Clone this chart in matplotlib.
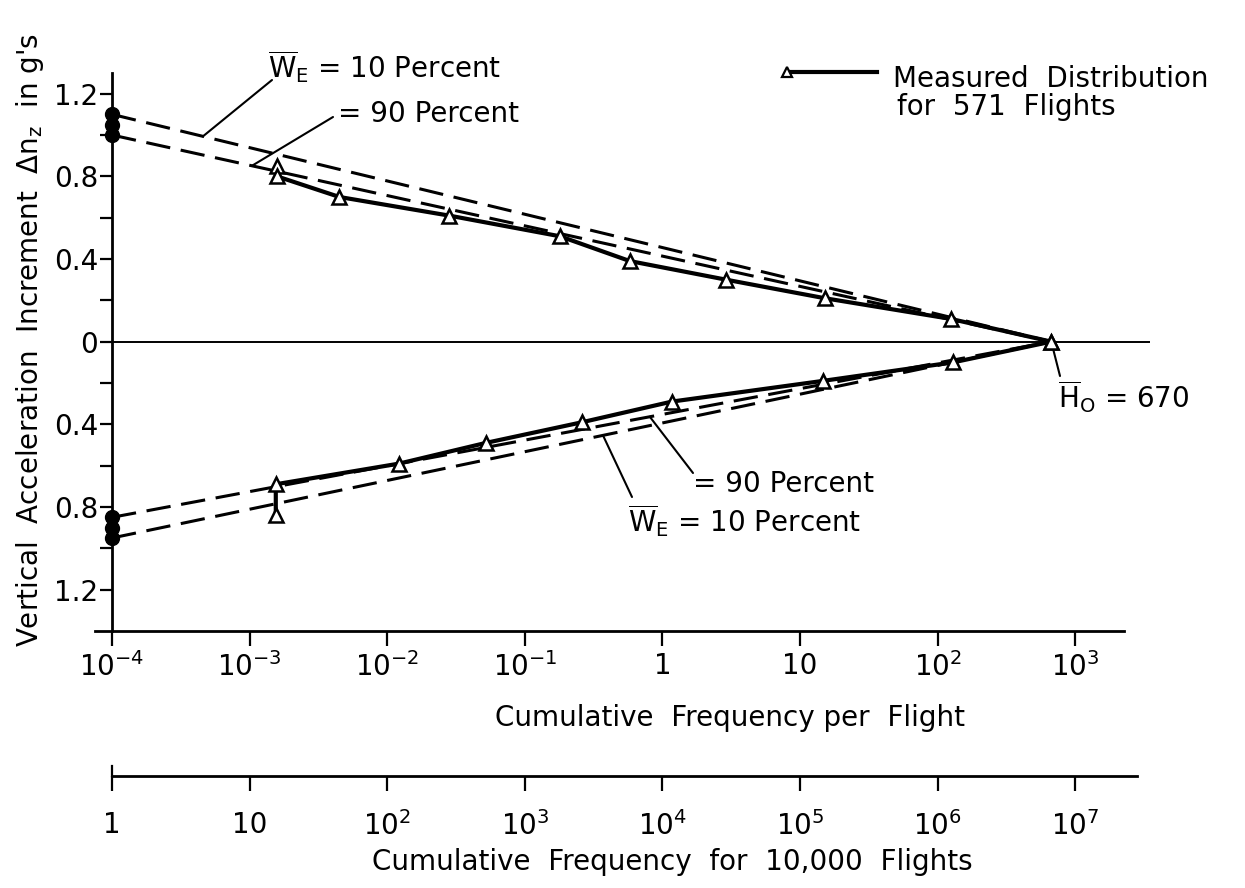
import numpy as np
import matplotlib
matplotlib.use('Agg')
import matplotlib.pyplot as plt
from matplotlib.lines import Line2D
from matplotlib.ticker import NullLocator

# measured distribution for 571 flights (frequency per flight, delta n_z)
pos_freq = [1.58e-3, 1.58e-3, 4.5e-3, 0.0282, 0.18, 0.58, 2.9, 15.2, 125, 670]
pos_dnz = [0.85, 0.80, 0.70, 0.61, 0.51, 0.39, 0.30, 0.21, 0.11, 0.0]
neg_freq = [670, 130, 14.6, 1.17, 0.26, 0.052, 0.0122, 1.55e-3, 1.55e-3]
neg_dnz = [0.0, -0.10, -0.19, -0.29, -0.39, -0.49, -0.59, -0.69, -0.84]

# extrapolated distributions, straight lines from f_min to H0
H0 = 670
f_min = 1e-4
we10_pos = [1.10, 0.0]
we90_pos = [1.00, 0.0]
we90_neg = [-0.85, 0.0]
we10_neg = [-0.95, 0.0]
end_pos = [1.10, 1.05, 1.00]
end_neg = [-0.85, -0.90, -0.95]

y_ticks = [-1.2, -0.8, -0.4, 0, 0.4, 0.8, 1.2]
y_minor = [-1.0, -0.6, -0.2, 0.2, 0.6, 1.0]
y_labels = ['1.2', '0.8', '0.4', '0', '0.4', '0.8', '1.2']
x_ticks = [1e-4, 1e-3, 1e-2, 1e-1, 1, 10, 1e2, 1e3]
x_labels = [r'$10^{-4}$', r'$10^{-3}$', r'$10^{-2}$', r'$10^{-1}$', '1', '10',
            r'$10^{2}$', r'$10^{3}$']
x2_ticks = [1, 10, 1e2, 1e3, 1e4, 1e5, 1e6, 1e7]
x2_labels = ['1', '10', r'$10^{2}$', r'$10^{3}$', r'$10^{4}$', r'$10^{5}$',
             r'$10^{6}$', r'$10^{7}$']

fs = 20
plt.rcParams['font.family'] = ['DejaVu Sans']

W, H = 1245, 888
fig = plt.figure(figsize=(W / 100, H / 100), dpi=100)


def fx(px):
    return px / W


def fy(py):
    return 1 - py / H


# 137.6 px per decade, 10^-4 sits 17 px in from the left edge
dec = 137.6
lo = 10 ** (-4 - 17 / dec)
hi = 10 ** (-4 + 1038 / dec)
x_end = 10 ** 3.355

ax = fig.add_axes([fx(95), fy(631), fx(1150) - fx(95), fy(73) - fy(631)])
ax.set_xscale('log')
ax.set_xlim(lo, hi)
ax.set_ylim(-1.4, 1.3)
for s in ['top', 'right']:
    ax.spines[s].set_visible(False)
ax.spines['left'].set_position(('data', f_min))
ax.spines['left'].set_bounds(-1.4, 1.3)
ax.spines['bottom'].set_bounds(lo, x_end)
for s in ['left', 'bottom']:
    ax.spines[s].set_linewidth(2.0)

ax.set_xticks(x_ticks, x_labels)
ax.xaxis.set_minor_locator(NullLocator())
ax.tick_params(axis='x', direction='out', length=11, width=1.6, pad=4,
               labelsize=fs)
ax.set_yticks(y_ticks, y_labels)
ax.set_yticks(y_minor, minor=True)
ax.tick_params(axis='y', which='both', direction='out', length=9, width=1.6,
               pad=1, labelsize=fs)

ax.hlines(0, f_min, hi, color='k', lw=1.4)

dash = (0, (8, 3.5))
for vals in [we10_pos, we90_pos, we90_neg, we10_neg]:
    ax.plot([f_min, H0], vals, color='k', ls=dash, lw=2.2)

ax.plot([f_min] * len(end_pos), end_pos, 'ko', ms=10, clip_on=False, zorder=5)
ax.plot([f_min] * len(end_neg), end_neg, 'ko', ms=10, clip_on=False, zorder=5)

for fr, dn in [(pos_freq, pos_dnz), (neg_freq, neg_dnz)]:
    ax.plot(fr, dn, 'k-', lw=3, marker='^', ms=10, mfc='white', mec='k',
            mew=1.8, zorder=4)


def on_line(x, y0):
    t = np.log10(x / f_min) / np.log10(H0 / f_min)
    return y0[0] * (1 - t)


leaders = [
    (4.58e-4, we10_pos, 272, 80),
    (1.04e-3, we90_pos, 333, 117),
    (0.81, we90_neg, 693, 473),
    (0.37, we10_neg, 632, 497),
]
for xl, line, px, py in leaders:
    ax.annotate('', xy=(xl, on_line(xl, line)), xytext=(fx(px), fy(py)),
                textcoords='figure fraction',
                arrowprops=dict(arrowstyle='-', lw=1.5, color='k',
                                shrinkA=0, shrinkB=0))
ax.annotate('', xy=(H0, 0), xytext=(fx(1060), fy(376)),
            textcoords='figure fraction',
            arrowprops=dict(arrowstyle='-', lw=1.5, color='k',
                            shrinkA=0, shrinkB=0))

we = r'$\overline{\mathrm{W}}_{\mathrm{E}}$'
fig.text(fx(268), fy(78), we + ' = 10 Percent', fontsize=fs, va='baseline')
fig.text(fx(338), fy(122), '= 90 Percent', fontsize=fs, va='baseline')
fig.text(fx(693), fy(492), '= 90 Percent', fontsize=fs, va='baseline')
fig.text(fx(628), fy(532), we + ' = 10 Percent', fontsize=fs, va='baseline')
fig.text(fx(1058), fy(408), r'$\overline{\mathrm{H}}_{\mathrm{O}}$ = 670',
         fontsize=fs, va='baseline')

# legend drawn by hand: marker at the left end of the line
fig.add_artist(Line2D([fx(790), fx(877)], [fy(72), fy(72)], lw=3, color='k'))
fig.add_artist(Line2D([fx(787)], [fy(72)], marker='^', ms=7, mfc='white',
                      mec='k', mew=1.6))
fig.text(fx(893), fy(87), 'Measured  Distribution', fontsize=fs,
         va='baseline')
fig.text(fx(897), fy(115), 'for  571  Flights', fontsize=fs, va='baseline')

fig.text(fx(30), fy(340), "Vertical  Acceleration  Increment  "
         r"$\Delta\mathrm{n_z}$  in g's", fontsize=fs, rotation=90,
         ha='center', va='center')
fig.text(fx(730), fy(718), 'Cumulative  Frequency per  Flight',
         fontsize=fs, ha='center', va='center')

# second scale: cumulative frequency for 10,000 flights
ax2 = fig.add_axes([fx(95), fy(776), fx(1150) - fx(95), 10 / H])
ax2.set_xscale('log')
ax2.set_xlim(lo * 1e4, hi * 1e4)
ax2.set_ylim(0, 1)
ax2.patch.set_visible(False)
for s in ['top', 'right', 'left']:
    ax2.spines[s].set_visible(False)
ax2.spines['bottom'].set_bounds(1, 10 ** 7.45)
ax2.spines['bottom'].set_linewidth(2.0)
ax2.set_yticks([])
ax2.set_xticks(x2_ticks, x2_labels)
ax2.xaxis.set_minor_locator(NullLocator())
ax2.tick_params(axis='x', direction='out', length=11, width=1.6, pad=14,
                labelsize=fs)
ax2.axvline(1, 0, 1, color='k', lw=1.6, clip_on=False)
fig.text(fx(672), fy(862), 'Cumulative  Frequency  for  10,000  Flights',
         fontsize=fs, ha='center', va='center')

fig.savefig('out.png', dpi=100)
